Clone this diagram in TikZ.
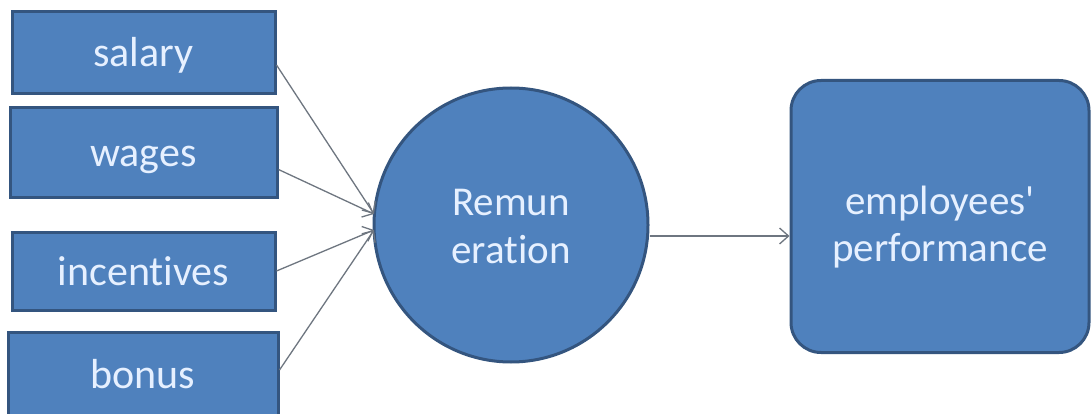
\documentclass[tikz,border=0pt]{standalone}
\usepackage{fontspec}
\setmainfont[Ligatures=NoCommon]{Carlito}
\usetikzlibrary{arrows.meta}
\definecolor{boxfill}{HTML}{4F81BD}
\definecolor{boxline}{HTML}{34557F}
\definecolor{txt}{HTML}{E6F0FF}
\definecolor{conn}{HTML}{6E7680}
\tikzset{
  inbox/.style={draw=boxline, line width=3pt, fill=boxfill, rectangle, minimum width=263pt, text=txt, font=\fontsize{42}{48}\selectfont, inner sep=0pt},
  remnode/.style={draw=boxline, line width=3pt, fill=boxfill, circle, minimum size=274pt, text=txt, align=center, font=\fontsize{41}{48}\selectfont, inner sep=0pt},
  outbox/.style={draw=boxline, line width=3pt, fill=boxfill, rectangle, rounded corners=30pt, minimum width=298pt, minimum height=272pt, text=txt, align=center, font=\fontsize{41}{47}\selectfont, inner sep=0pt},
  link/.style={draw=conn, line width=1.3pt, -{Straight Barb[length=9pt,width=16pt,line width=1.3pt]}}
}
\begin{document}
\begin{tikzpicture}[x=1pt,y=-1pt]
\useasboundingbox (0,0) rectangle (1092,414);
\clip (0,0) rectangle (1092,414);
\fill[white] (0,0) rectangle (1092,414);
\node[inbox, minimum height=82pt] (salary) at (143.5,53) {\raisebox{-14pt}[0pt][0pt]{salary}};
\node[inbox, minimum height=90pt, minimum width=267pt] (wages) at (143.5,152.5) {\raisebox{-14.5pt}[0pt][0pt]{wages}};
\node[inbox, minimum height=78pt] (incent) at (143.5,271) {\raisebox{-14pt}[0pt][0pt]{incentives}};
\node[inbox, minimum height=86pt, minimum width=270pt] (bonus) at (143,375) {\raisebox{-13pt}[0pt][0pt]{bonus}};
\node[remnode] (rem) at (511,225) {\raisebox{-11pt}[0pt][0pt]{\begin{tabular}{@{}c@{}}Remun\\eration\end{tabular}}};
\node[outbox] (perf) at (940,216.5) {\raisebox{-18pt}[0pt][0pt]{\begin{tabular}{@{}c@{}}employees\textquotesingle\\performance\end{tabular}}};
\coordinate (ina) at (374,214);
\coordinate (inb) at (374,230);
\coordinate (sa) at ([yshift=-12pt]salary.east);
\coordinate (wa) at ([yshift=-17pt]wages.east);
\coordinate (ba) at ([yshift=5pt]bonus.east);
\draw[link] (sa) -- (ina);
\draw[link] (wa) -- (ina);
\draw[link] (incent.east) -- (inb);
\draw[link] (ba) -- (inb);
\draw[link] (rem.east |- 0,236) coordinate (ra) -- (perf.west |- ra);
\end{tikzpicture}
\end{document}
